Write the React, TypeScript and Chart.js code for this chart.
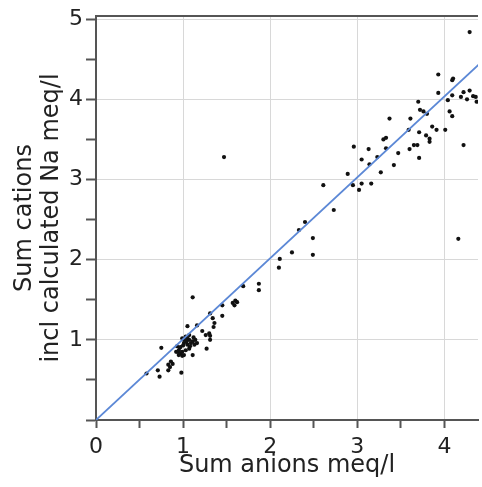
import React, { useEffect, useRef } from 'react';
import { Chart, registerables } from 'chart.js';

Chart.register(...registerables);

// Sum anions (meq/l)
const anionsX = [
  0.58, 0.71, 0.73, 0.75, 0.83, 0.83, 0.85, 0.86, 0.88, 0.92,
  0.94, 0.95, 0.95, 0.97, 0.97, 0.98, 0.99, 0.99, 0.99, 1.01,
  1.01, 1.01, 1.03, 1.03, 1.05, 1.05, 1.05, 1.07, 1.07, 1.07,
  1.09, 1.11, 1.11, 1.11, 1.13, 1.14, 1.16, 1.16, 1.22, 1.26,
  1.27, 1.30, 1.31, 1.31, 1.31, 1.34, 1.35, 1.36, 1.45, 1.45,
  1.47, 1.57, 1.59, 1.60, 1.62, 1.69, 1.87, 1.87, 2.10, 2.11,
  2.25, 2.49, 2.33, 2.40, 2.49, 2.61, 2.73, 2.89, 2.95, 2.96,
  3.02, 3.05, 3.05, 3.13, 3.14, 3.16, 3.23, 3.27, 3.30, 3.33,
  3.33, 3.37, 3.42, 3.47, 3.59, 3.60, 3.61, 3.65, 3.69, 3.70,
  3.71, 3.71, 3.72, 3.76, 3.79, 3.80, 3.83, 3.83, 3.86, 3.91,
  3.93, 3.93, 4.01, 4.04, 4.06, 4.09, 4.09, 4.10, 4.09, 4.16,
  4.19, 4.22, 4.22, 4.26, 4.29, 4.29, 4.33, 4.36, 4.37,
  0.93, 0.96, 1.00, 1.04, 1.08, 1.12,
];

// Sum cations incl calculated Na (meq/l)
const cationsY = [
  0.58, 0.62, 0.54, 0.90, 0.62, 0.69, 0.66, 0.73, 0.70, 0.85,
  0.85, 0.87, 0.81, 0.91, 0.83, 0.59, 0.80, 1.02, 0.85, 0.96,
  0.81, 1.00, 1.04, 0.87, 0.94, 1.17, 1.02, 1.00, 0.89, 1.06,
  0.96, 0.98, 0.81, 1.53, 0.94, 1.00, 0.96, 1.18, 1.11, 1.06,
  0.89, 1.08, 1.05, 1.00, 1.33, 1.27, 1.16, 1.21, 1.30, 1.43,
  3.28, 1.46, 1.43, 1.49, 1.47, 1.67, 1.70, 1.62, 1.90, 2.01,
  2.09, 2.06, 2.37, 2.47, 2.27, 2.93, 2.62, 3.07, 2.93, 3.41,
  2.87, 2.95, 3.25, 3.38, 3.19, 2.95, 3.28, 3.09, 3.50, 3.52,
  3.39, 3.76, 3.18, 3.33, 3.62, 3.38, 3.76, 3.43, 3.43, 3.97,
  3.59, 3.27, 3.87, 3.85, 3.55, 3.82, 3.51, 3.47, 3.66, 3.62,
  4.31, 4.08, 3.62, 3.99, 3.85, 3.79, 4.05, 4.26, 4.24, 2.26,
  4.03, 4.09, 3.43, 4.00, 4.11, 4.84, 4.04, 4.03, 3.97,
  0.92, 0.90, 0.93, 0.98, 0.92, 1.03,
];

// Fit line end points
const fitX = [0, 4.4];
const fitY = [0, 4.44];

const xTickValues = [0, 0.5, 1, 1.5, 2, 2.5, 3, 3.5, 4];
const yTickValues = [0, 0.5, 1, 1.5, 2, 2.5, 3, 3.5, 4, 4.5, 5];

const xTitle = 'Sum anions meq/l';
const yTitle = ['Sum cations', 'incl calculated Na meq/l'];

const FONT = 'DejaVu Sans';
const AXIS = '#555';
const GRID = '#d8d8d8';

const topBorder = {
  id: 'topBorder',
  afterDraw(chart: any) {
    const { ctx, chartArea } = chart;
    ctx.save();
    ctx.strokeStyle = AXIS;
    ctx.lineWidth = 2;
    ctx.beginPath();
    ctx.moveTo(chartArea.left, chartArea.top);
    ctx.lineTo(chartArea.right, chartArea.top);
    ctx.stroke();
    ctx.restore();
  },
};

export default function App() {
  const ref = useRef<HTMLCanvasElement>(null);

  useEffect(() => {
    document.body.style.margin = '0';
    const points = anionsX.map((x, i) => ({ x, y: cationsY[i] }));
    const fit = fitX.map((x, i) => ({ x, y: fitY[i] }));
    const chart = new Chart(ref.current!, {
      type: 'scatter',
      data: {
        datasets: [
          {
            data: fit,
            showLine: true,
            borderColor: 'rgb(92,136,214)',
            borderWidth: 1.8,
            pointRadius: 0,
            fill: false,
          } as any,
          {
            data: points,
            pointRadius: 2.1,
            pointBorderWidth: 0,
            pointBackgroundColor: '#111',
            borderColor: '#111',
          },
        ],
      },
      plugins: [topBorder],
      options: {
        responsive: false,
        animation: false,
        devicePixelRatio: 1,
        layout: { padding: { top: 16, right: 0, left: 0, bottom: 0 } },
        plugins: { legend: { display: false }, tooltip: { enabled: false } },
        scales: {
          x: {
            type: 'linear',
            min: 0,
            max: 4.386,
            afterBuildTicks: (s: any) => {
              s.ticks = xTickValues.map((v) => ({ value: v }));
            },
            afterFit: (s: any) => {
              s.height = 67;
              s.paddingLeft = 0;
              s.paddingRight = 0;
            },
            ticks: {
              autoSkip: false,
              maxRotation: 0,
              padding: 6,
              color: '#222',
              font: { family: FONT, size: 22 },
              callback: (v: any) => (Number.isInteger(v) ? String(v) : ''),
            },
            grid: {
              color: (c: any) => (Number.isInteger(c.tick?.value) ? GRID : 'rgba(0,0,0,0)'),
              tickColor: AXIS,
              tickLength: 8,
              tickWidth: 2,
              lineWidth: 1,
            },
            border: { color: AXIS, width: 2 },
            title: {
              display: true,
              text: xTitle,
              color: '#222',
              font: { family: FONT, size: 24 },
              padding: { top: 0, bottom: 7 },
            },
          },
          y: {
            type: 'linear',
            min: 0,
            max: 5.04,
            afterBuildTicks: (s: any) => {
              s.ticks = yTickValues.map((v) => ({ value: v }));
            },
            afterFit: (s: any) => {
              s.width = 96;
              s.paddingTop = 0;
              s.paddingBottom = 0;
            },
            ticks: {
              autoSkip: false,
              padding: 3,
              color: '#222',
              font: { family: FONT, size: 22 },
              callback: (v: any) => (Number.isInteger(v) && v > 0 ? String(v) : ''),
            },
            grid: {
              color: (c: any) => (Number.isInteger(c.tick?.value) ? GRID : 'rgba(0,0,0,0)'),
              tickColor: AXIS,
              tickLength: 10,
              tickWidth: 2,
              lineWidth: 1,
            },
            border: { color: AXIS, width: 2 },
            title: {
              display: true,
              text: yTitle,
              color: '#222',
              font: { family: FONT, size: 24, lineHeight: 1.125 },
              padding: { top: 11, bottom: 0 },
            },
          },
        },
      } as any,
    });
    return () => chart.destroy();
  }, []);

  return (
    <div style={{ position: 'absolute', left: 0, top: 0, width: 482, height: 487 }}>
      <canvas ref={ref} width={482} height={487} />
    </div>
  );
}
